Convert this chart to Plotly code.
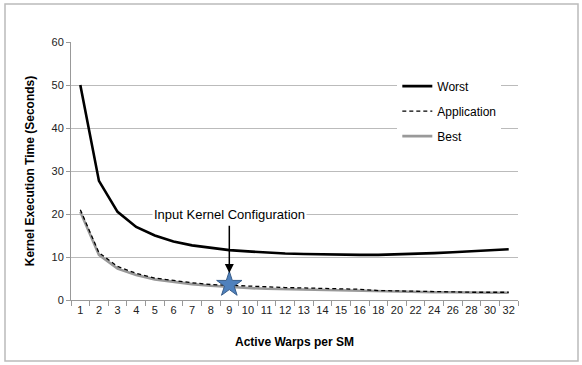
import plotly.graph_objects as go

warps = ["1","2","3","4","5","6","7","8","9","10","11","12","13","14","15","16",
         "18","20","22","24","26","28","30","32"]
worst = [50, 27.7, 20.5, 17.0, 15.0, 13.6, 12.7, 12.1, 11.6, 11.3, 11.0, 10.8, 10.7,
         10.6, 10.5, 10.5, 10.5, 10.6, 10.7, 10.9, 11.1, 11.3, 11.5, 11.8]
application = [21.0, 11.0, 7.8, 6.2, 5.1, 4.5, 4.0, 3.6, 3.4, 3.2, 3.0, 2.9, 2.8,
               2.7, 2.6, 2.5, 2.2, 2.1, 2.0, 1.9, 1.9, 1.8, 1.8, 1.8]
best = [20.5, 10.5, 7.3, 5.8, 4.8, 4.2, 3.7, 3.3, 3.0, 2.8, 2.6, 2.5, 2.4,
        2.3, 2.2, 2.1, 2.0, 1.9, 1.9, 1.8, 1.8, 1.7, 1.7, 1.7]
star_x = ["9"]
star_y = [3.6]
yticks = [0, 10, 20, 30, 40, 50, 60]
star_idx = warps.index(star_x[0])

fig = go.Figure()
fig.add_trace(go.Scatter(x=warps, y=worst, mode="lines", name="Worst",
                         line=dict(color="black", width=2.6), legendgroup="a", legendrank=1))
fig.add_trace(go.Scatter(x=warps, y=best, mode="lines", name="Best",
                         line=dict(color="#999999", width=2.6), legendgroup="c", legendrank=3))
fig.add_trace(go.Scatter(x=warps, y=application, mode="lines", name="Application",
                         line=dict(color="black", width=1.3, dash="4px,3px"),
                         legendgroup="b", legendrank=2))
fig.add_trace(go.Scatter(x=star_x, y=star_y, mode="markers", showlegend=False,
                         marker=dict(symbol="star", size=19, color="#4F81BD",
                                     line=dict(color="#385D8A", width=1))))

fig.add_annotation(x=star_idx, y=19.8, text="Input Kernel Configuration", showarrow=False,
                   font=dict(family="Liberation Sans, Arial", size=13, color="black"),
                   xref="x", yref="y", bgcolor="white")
fig.add_annotation(x=star_idx, y=6.3, ax=star_idx, ay=17.6, axref="x", ayref="y",
                   xref="x", yref="y", text="", showarrow=True,
                   arrowhead=2, arrowsize=1.2, arrowwidth=1.5, arrowcolor="black")

fig.add_shape(type="rect", xref="paper", yref="paper",
              x0=-66/447, x1=507/447, y0=-61/258, y1=296/258,
              line=dict(color="#BBBBBB", width=1.5), fillcolor="rgba(0,0,0,0)")

fig.update_layout(
    width=582, height=365,
    margin=dict(l=71, r=64, t=42, b=65),
    paper_bgcolor="white", plot_bgcolor="white",
    font=dict(family="Liberation Sans, Arial", color="#222222"),
    showlegend=True,
    legend=dict(x=0.73, y=0.885, xanchor="left", yanchor="top",
                bgcolor="white", font=dict(size=12, color="black"),
                tracegroupgap=6, itemwidth=30, traceorder="grouped"),
    xaxis=dict(type="category", categoryorder="array", categoryarray=warps,
               range=[-0.5, len(warps) - 0.5],
               showgrid=False, showline=True, linecolor="#999999", linewidth=1,
               ticks="outside", tickson="boundaries", ticklen=5, tickcolor="#999999",
               tickangle=0, tickfont=dict(size=11, color="#222222"),
               title=dict(text="<b>Active Warps per SM</b>", font=dict(size=12, color="black"),
                          standoff=22)),
    yaxis=dict(range=[0, 60], tickvals=yticks, showgrid=True, gridcolor="#BBBBBB",
               gridwidth=1.3, showline=True, linecolor="#999999", linewidth=1,
               ticks="outside", ticklen=4, tickcolor="#999999", zeroline=False,
               tickfont=dict(size=11, color="#222222"),
               title=dict(text="<b>Kernel Execution Time (Seconds)</b>",
                          font=dict(size=12, color="black"), standoff=14)),
)

fig.write_html("out.html", post_script="document.body.style.margin='0';",
               config={"displayModeBar": False})
